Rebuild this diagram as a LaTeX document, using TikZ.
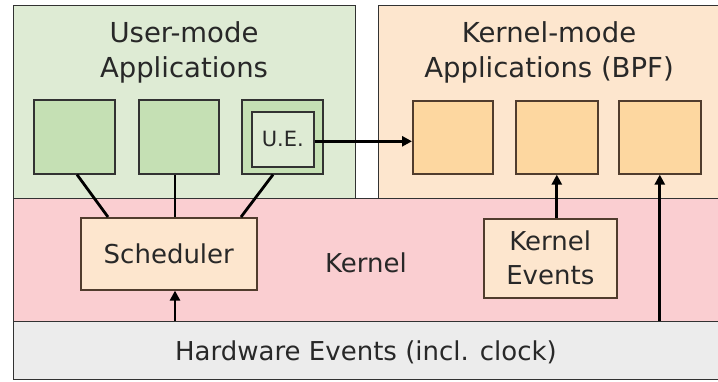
\documentclass[tikz,border=0pt]{standalone}
\usepackage{fontspec}
\setmainfont{DejaVu Sans}
\usetikzlibrary{arrows.meta}
\definecolor{greenbg}{RGB}{222,235,212}
\definecolor{greenbox}{RGB}{197,224,180}
\definecolor{orangebg}{RGB}{253,230,206}
\definecolor{orangebox}{RGB}{253,215,160}
\definecolor{pinkbg}{RGB}{250,206,209}
\definecolor{graybg}{RGB}{236,236,236}
\definecolor{txt}{RGB}{40,40,40}
\definecolor{edge}{RGB}{50,50,50}
\definecolor{brown}{RGB}{80,60,45}
\tikzset{
  x=1pt, y=-1pt,
  region/.style={draw=edge, line width=0.8pt, anchor=north west, inner sep=0pt},
  gbox/.style={draw=edge, line width=1.6pt, fill=greenbox, anchor=north west, inner sep=0pt},
  obox/.style={draw=brown, line width=1.6pt, fill=orangebox, anchor=north west, inner sep=0pt},
  kbox/.style={draw=brown, line width=1.6pt, fill=orangebg, anchor=north west, inner sep=0pt, align=center, text=txt},
  lbl/.style={text=txt, align=center, inner sep=0pt, font=\fontsize{26}{34}\selectfont},
  title/.style={lbl, font=\fontsize{27.5}{35}\selectfont},
  conn/.style={line width=2.8pt, black},
  arr/.style={conn, -{Triangle[length=10pt,width=10pt]}},
}
\begin{document}
\begin{tikzpicture}
\useasboundingbox (0,0) rectangle (718,381);
\clip (0,0) rectangle (718,381);
% regions
\node[region, fill=greenbg, minimum width=342pt, minimum height=193pt] (user) at (13,5) {};
\node[region, fill=orangebg, minimum width=350pt, minimum height=193pt] (kmode) at (378,5) {};
\node[region, fill=pinkbg, minimum width=715pt, minimum height=123pt] (kernel) at (13,198) {};
\node[region, fill=graybg, minimum width=715pt, minimum height=58pt] (hw) at (13,321) {};
% titles
\node[title] (usertitle) at (184,52) {User-mode\\Applications};
\node[title] (kmodetitle) at (549,52) {Kernel-mode\\Applications (BPF)};
\node[lbl] (kerneltitle) at (366,263) {Kernel};
\node[lbl] (hwtitle) at (366,352) {Hardware Events (incl. clock)};
% user boxes
\node[gbox, minimum width=81pt, minimum height=74pt] (g1) at (33,99) {};
\node[gbox, minimum width=80pt, minimum height=74pt] (g2) at (138,99) {};
\node[gbox, minimum width=81pt, minimum height=74pt] (g3) at (241,99) {};
\node[draw=edge, line width=1.6pt, fill=greenbg, anchor=north west, inner sep=0pt,
      minimum width=62pt, minimum height=55pt, text=txt,
      font=\fontsize{21}{24}\selectfont] (ue) at (251,111) {U.E.};
% kernel-mode boxes
\node[obox, minimum width=80pt, minimum height=73pt] (o1) at (412,100) {};
\node[obox, minimum width=82pt, minimum height=73pt] (o2) at (515,100) {};
\node[obox, minimum width=82pt, minimum height=73pt] (o3) at (618,100) {};
% kernel boxes
\node[kbox, minimum width=176pt, minimum height=72pt, font=\fontsize{26}{34}\selectfont] (sched) at (80,217) {Scheduler};
\node[kbox, minimum width=133pt, minimum height=79pt, font=\fontsize{26}{34}\selectfont] (kev) at (483,218) {Kernel\\Events};
% connectors
\draw[conn] ([xshift=28pt]sched.north west) -- ([xshift=44pt]g1.south west);
\draw[conn] ([xshift=95pt]sched.north west) -- ([xshift=37pt]g2.south west);
\draw[conn] ([xshift=161pt]sched.north west) -- ([xshift=32pt]g3.south west);
\draw[arr] ([yshift=-2pt]ue.east) -- ([yshift=-2pt]ue.east -| o1.west);
\draw[arr] ([xshift=95pt]sched.south west |- hw.north) -- ([xshift=95pt]sched.south west);
\draw[arr] (o2.south |- kev.north) -- (o2.south);
\draw[arr] (o3.south |- hw.north) -- (o3.south);
\end{tikzpicture}
\end{document}
